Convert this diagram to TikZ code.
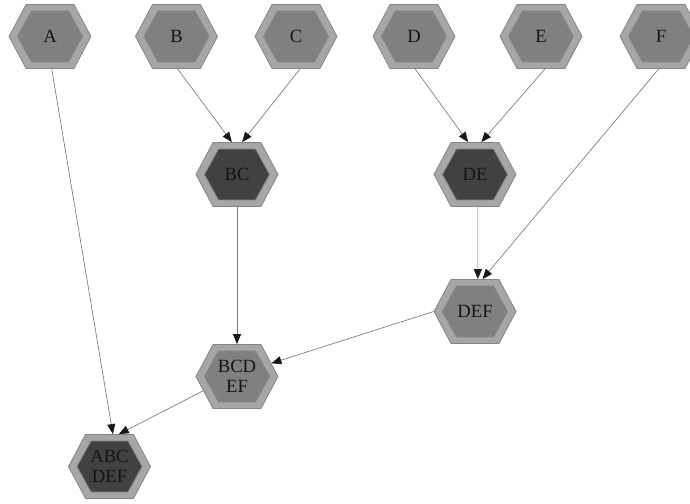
\documentclass[tikz,border=0pt]{standalone}
\usepackage{fontspec}
\setmainfont{Liberation Serif}
\usetikzlibrary{shapes.symbols,arrows.meta}

\definecolor{hexrim}{HTML}{A6A6A6}
\definecolor{hexline}{HTML}{858585}
\definecolor{hexmid}{HTML}{808080}
\definecolor{hexdark}{HTML}{414141}
\definecolor{edgegray}{HTML}{7A7A7A}

\tikzset{
	hexa/.style={shape=signal, signal to=east and west, signal pointer angle=124,
		minimum width=61.5pt, minimum height=48pt, inner sep=0pt,
		fill=hexrim, draw=hexline, line width=0.6pt, text=black!92,
		font=\fontsize{14}{15}\selectfont, align=center,
		path picture={\draw[draw=hexline, fill=#1, line width=0.6pt]
			([shift={(-24.4pt,0pt)}]path picture bounding box.center)
			-- ++(10.5pt,19.1pt) -- ++(27.8pt,0pt) -- ++(10.5pt,-19.1pt)
			-- ++(-10.5pt,-19.1pt) -- ++(-27.8pt,0pt) -- cycle;}},
	link/.style={draw=edgegray, line width=0.5pt, -{Triangle[length=7.5pt,width=6pt,color=black!90]}}
}

\begin{document}
\begin{tikzpicture}[x=0.75pt,y=-0.75pt]
			\useasboundingbox (0,0) rectangle (690,504);
			\clip (0,0) rectangle (690,504);
			\node [hexa=hexmid] (a) at (50,36.5) {A};
			\node [hexa=hexmid] (b) at (176.5,36.5) {B};
			\node [hexa=hexmid] (c) at (296,36.5) {C};
			\node [hexa=hexmid] (d) at (414,36.5) {D};
			\node [hexa=hexmid] (e) at (541,36.5) {E};
			\node [hexa=hexmid] (f) at (661,36.5) {F};
			\node [hexa=hexdark] (bc) at (237,174.5) {BC};
			\node [hexa=hexdark] (de) at (475,174.5) {DE};
			\node [hexa=hexmid] (def) at (475,311.5) {DEF};
			\node [hexa=hexmid] (bcdef) at (237,376.5) {BCD\\EF};
			\node [hexa=hexdark] (abcdef) at (109.5,466.5) {ABC\\DEF};
			\draw [link] (a.-87) -- (abcdef.84);
			\draw [link] (b.-88) -- (bc.99);
			\draw [link] (c.-83) -- (bc.81);
			\draw [link] (d.-88) -- (de.102);
			\draw [link] (e.-83) -- (de.79);
			\draw [link] (f.-94) -- (def.77);
			\draw [link] (de.-85) -- (def.85);
			\draw [link] (bc.south) -- (bcdef.north);
			\draw [link] (def.west) -- (bcdef.21);
			\draw [link] (bcdef.203) -- (abcdef.74);
		\end{tikzpicture}
\end{document}
